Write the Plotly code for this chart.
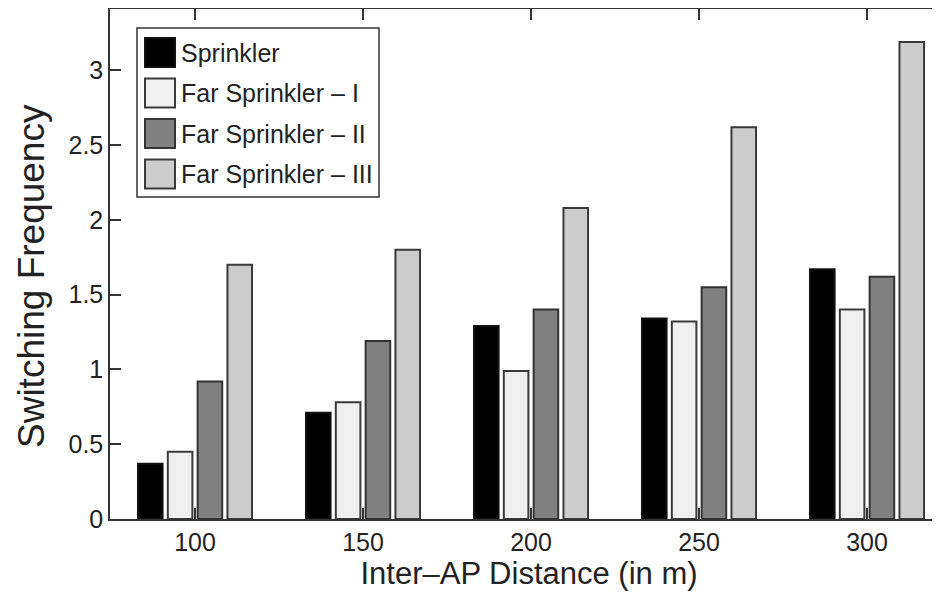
import plotly.graph_objects as go

distances = [100, 150, 200, 250, 300]
series_names = ["Sprinkler", "Far Sprinkler \u2013 I", "Far Sprinkler \u2013 II", "Far Sprinkler \u2013 III"]
sprinkler = [0.37, 0.71, 1.29, 1.34, 1.67]
far_sprinkler_1 = [0.45, 0.78, 0.99, 1.32, 1.40]
far_sprinkler_2 = [0.92, 1.19, 1.40, 1.55, 1.62]
far_sprinkler_3 = [1.70, 1.80, 2.08, 2.62, 3.19]
y_ticks = [0, 0.5, 1, 1.5, 2, 2.5, 3]

series_values = [sprinkler, far_sprinkler_1, far_sprinkler_2, far_sprinkler_3]
fills = ["#000000", "#f0f0f0", "#808080", "#cccccc"]
outlines = ["#111111", "#3a3a3a", "#333333", "#3a3a3a"]

FONT = "Liberation Sans, Arial, Helvetica, sans-serif"
TXT = "#222222"
W, H = 940, 599
OFF = 8  # default page body margin
ML, MR, MT, MB = 102, 0, 1, 88
PW, PH = W - ML - MR, H - MT - MB


def px_x(px):
    return (px - OFF - ML) / PW


def px_y(py):
    return (H - MB - (py - OFF)) / PH


fig = go.Figure()
for i, (name, vals) in enumerate(zip(series_names, series_values)):
    fig.add_trace(go.Bar(
        x=distances, y=vals, name=name,
        marker=dict(color=fills[i], line=dict(color=outlines[i], width=2)),
    ))

# Legend drawn with large swatches like the original figure
shapes = [dict(type="rect", xref="paper", yref="paper",
               x0=px_x(137), x1=px_x(379), y0=px_y(197), y1=px_y(28),
               fillcolor="white", line=dict(color="#333333", width=1.5), layer="above")]
annotations = []
for i, name in enumerate(series_names):
    top = 38 + 40.5 * i
    shapes.append(dict(type="rect", xref="paper", yref="paper",
                       x0=px_x(145), x1=px_x(175), y0=px_y(top + 29), y1=px_y(top),
                       fillcolor=fills[i], line=dict(color=outlines[i], width=2), layer="above"))
    annotations.append(dict(xref="paper", yref="paper", x=px_x(179), y=px_y(top + 15),
                            xanchor="left", yanchor="middle", showarrow=False,
                            text=name, font=dict(family=FONT, size=25, color=TXT)))

# y-axis title (placed slightly below the plot centre, as in the original)
annotations.append(dict(xref="paper", yref="paper", x=px_x(31), y=px_y(276),
                        xanchor="center", yanchor="middle", showarrow=False, textangle=-90,
                        text="Switching Frequency", font=dict(family=FONT, size=37, color=TXT)))

fig.update_layout(
    width=W, height=H,
    margin=dict(l=ML, r=MR, t=MT, b=MB),
    paper_bgcolor="white", plot_bgcolor="white",
    barmode="group", bargap=0.29, bargroupgap=0.175,
    font=dict(family=FONT, color=TXT, size=25),
    showlegend=False,
    shapes=shapes, annotations=annotations,
    xaxis=dict(
        range=[74.7, 324.1], tickvals=distances, ticktext=[str(d) for d in distances],
        ticks="inside", ticklen=11, tickwidth=1.5, tickcolor="#333333",
        showline=True, linecolor="#333333", linewidth=1.5, mirror="ticks",
        showgrid=False, zeroline=False, automargin=False,
        tickfont=dict(family=FONT, size=25, color=TXT),
        title=dict(text="Inter\u2013AP Distance (in m)", standoff=7,
                   font=dict(family=FONT, size=31, color=TXT)),
    ),
    yaxis=dict(
        range=[0, 3.41], tickvals=y_ticks,
        ticks="inside", ticklen=11, tickwidth=1.5, tickcolor="#333333",
        showline=True, linecolor="#333333", linewidth=1.5, mirror=False,
        showgrid=False, zeroline=False, automargin=False,
        tickfont=dict(family=FONT, size=25, color=TXT),
    ),
)

fig.write_html("out.html")
